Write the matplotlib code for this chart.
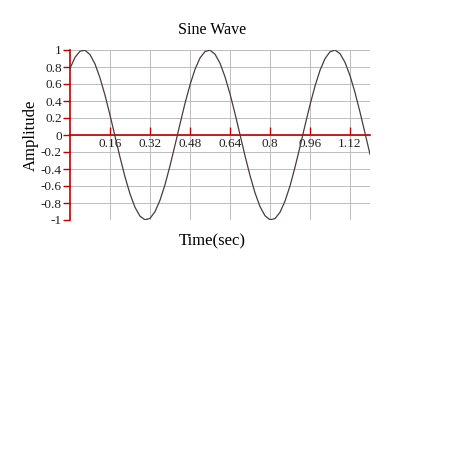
import numpy as np
import matplotlib.pyplot as plt

plt.rcParams['font.family'] = ['Liberation Serif', 'DejaVu Serif']

# samples, every 0.02 s
t_step = 0.02
amplitude = [0.783, 0.913, 0.986, 0.997, 0.946, 0.836, 0.672, 0.468, 0.234, -0.014,
             -0.261, -0.492, -0.693, -0.851, -0.955, -0.998, -0.981, -0.902, -0.767, -0.585,
             -0.362, -0.120, 0.130, 0.372, 0.590, 0.772, 0.906, 0.982, 0.998, 0.951,
             0.845, 0.685, 0.484, 0.252, 0.005, -0.244, -0.476, -0.680, -0.842, -0.950,
             -0.997, -0.984, -0.909, -0.778, -0.600, -0.379, -0.138, 0.112, 0.355, 0.575,
             0.761, 0.898, 0.979, 0.999, 0.957, 0.855, 0.699, 0.500, 0.269, 0.023,
             -0.226]
time = [round(i * t_step, 2) for i in range(len(amplitude))]

x_ticks = [0.16, 0.32, 0.48, 0.64, 0.8, 0.96, 1.12]
x_labels = ['0.16', '0.32', '0.48', '0.64', '0.8', '0.96', '1.12']
y_ticks = [-1, -0.8, -0.6, -0.4, -0.2, 0, 0.2, 0.4, 0.6, 0.8, 1]
y_labels = ['-1', '-0.8', '-0.6', '-0.4', '-0.2', '0', '0.2', '0.4', '0.6', '0.8', '1']

red = '#c00000'

fig = plt.figure(figsize=(4.65, 4.65), dpi=100)
ax = fig.add_axes([70 / 465, 1 - 220 / 465, 300 / 465, 170 / 465])

ax.set_xlim(0, 1.2)
ax.set_ylim(-1, 1)
ax.set_xticks(x_ticks)
ax.set_xticklabels(x_labels)
ax.set_yticks(y_ticks)
ax.set_yticklabels(y_labels)

ax.grid(True, color='#bcbcbc', linewidth=0.7)
ax.set_axisbelow(True)

ax.plot(time, amplitude, color='#4a3c3c', linewidth=0.9, zorder=3)

ax.spines['top'].set_visible(False)
ax.spines['right'].set_visible(False)
ax.spines['bottom'].set_position(('data', 0))
ax.spines['bottom'].set_color(red)
ax.spines['bottom'].set_linewidth(1.2)
ax.spines['left'].set_color(red)
ax.spines['left'].set_linewidth(1.2)
ax.spines['bottom'].set_zorder(2)

ax.tick_params(axis='x', direction='in', length=6, color=red, width=1,
               pad=2, labelsize=9.5, labelcolor='#222222')
ax.tick_params(axis='y', direction='out', length=5, color=red, width=1,
               pad=1, labelsize=9.5, labelcolor='#222222')

fig.text(212 / 465, 1 - 30 / 465, 'Sine Wave', ha='center', va='center', fontsize=11.5)
fig.text(212 / 465, 1 - 241 / 465, 'Time(sec)', ha='center', va='center', fontsize=12)
fig.text(31 / 465, 1 - 135 / 465, 'Amplitude', ha='center', va='center',
         rotation=90, fontsize=12)

fig.savefig('out.png', dpi=100)
